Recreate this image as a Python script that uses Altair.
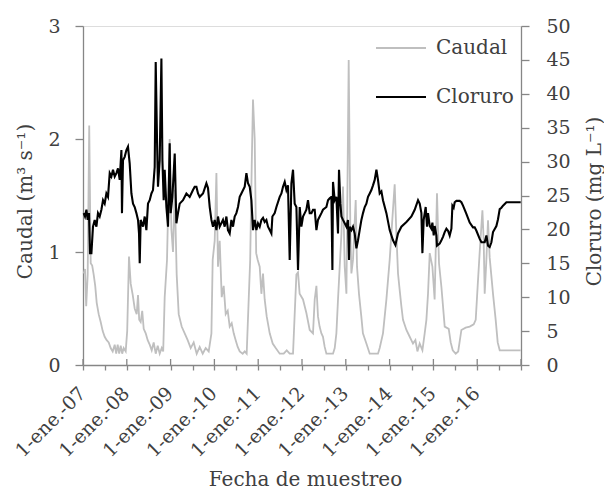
import altair as alt
import pandas as pd

# ---------------- data ----------------
caudal_t = [2007.016, 2007.046, 2007.073, 2007.107, 2007.142, 2007.176, 2007.210, 2007.244, 2007.279, 2007.313,
            2007.358, 2007.404, 2007.450, 2007.495, 2007.541, 2007.587, 2007.632, 2007.678, 2007.724, 2007.758,
            2007.792, 2007.826, 2007.861, 2007.895, 2007.929, 2007.975,
            2008.009, 2008.050, 2008.089, 2008.135, 2008.180, 2008.226, 2008.256, 2008.283, 2008.317, 2008.352,
            2008.386, 2008.432, 2008.477, 2008.523, 2008.569, 2008.614, 2008.660, 2008.706, 2008.751, 2008.797,
            2008.831, 2008.865, 2008.918, 2008.979,
            2009.018, 2009.055, 2009.094, 2009.139, 2009.185, 2009.253, 2009.322, 2009.390, 2009.459, 2009.527,
            2009.596, 2009.664, 2009.733, 2009.801, 2009.870, 2009.932, 2009.961,
            2010.007, 2010.046, 2010.082, 2010.121, 2010.167, 2010.212, 2010.258, 2010.304, 2010.349, 2010.395,
            2010.441, 2010.486, 2010.532, 2010.578, 2010.646, 2010.692, 2010.737, 2010.783, 2010.817, 2010.852,
            2010.881, 2010.920, 2010.954, 2010.989,
            2011.034, 2011.073, 2011.110, 2011.148, 2011.194, 2011.263, 2011.331, 2011.400, 2011.491, 2011.582,
            2011.651, 2011.719, 2011.795, 2011.833, 2011.872, 2011.909, 2011.946,
            2012.023, 2012.100, 2012.176, 2012.251, 2012.290, 2012.329, 2012.365, 2012.402, 2012.443, 2012.479,
            2012.518, 2012.557, 2012.708, 2012.747, 2012.785, 2012.822, 2012.861, 2012.900, 2012.936, 2012.975,
            2013.014, 2013.066, 2013.105, 2013.128, 2013.164, 2013.226, 2013.256, 2013.301, 2013.354, 2013.391,
            2013.470, 2013.546, 2013.735, 2013.774, 2013.849, 2013.927,
            2014.002, 2014.064, 2014.116, 2014.155, 2014.192, 2014.231, 2014.269, 2014.306, 2014.384, 2014.459,
            2014.534, 2014.589, 2014.635, 2014.687, 2014.749, 2014.801, 2014.840, 2014.877, 2014.916, 2014.977,
            2015.028, 2015.082, 2015.128, 2015.183, 2015.258, 2015.350, 2015.395, 2015.441, 2015.509, 2015.566,
            2015.639, 2015.737, 2015.829, 2015.920, 2015.966,
            2016.011, 2016.057, 2016.119, 2016.148, 2016.171, 2016.206, 2016.247, 2016.285, 2016.361, 2016.422,
            2016.468, 2016.514, 2016.993]

caudal_q = [0.81, 0.85, 0.52, 0.80, 2.12, 0.90, 0.88, 0.80, 0.70, 0.55,
            0.45, 0.38, 0.30, 0.25, 0.22, 0.20, 0.15, 0.12, 0.18, 0.10,
            0.18, 0.10, 0.17, 0.10, 0.15, 0.12,
            0.30, 0.96, 0.72, 0.62, 0.50, 0.45, 0.62, 0.40, 0.38, 0.48,
            0.32, 0.28, 0.22, 0.18, 0.13, 0.20, 0.10, 0.17, 0.10, 0.15,
            0.12, 0.60, 0.93, 2.00,
            1.20, 1.00, 1.55, 0.80, 0.45, 0.34, 0.28, 0.22, 0.15, 0.20,
            0.10, 0.16, 0.10, 0.15, 0.12, 0.28, 0.93,
            1.10, 1.70, 0.87, 1.10, 0.60, 0.70, 0.45, 0.48, 0.34, 0.37,
            0.28, 0.22, 0.16, 0.12, 0.10, 0.12, 0.10, 0.58, 0.93, 1.76,
            2.35, 2.00, 0.99, 0.93,
            0.87, 0.63, 0.81, 0.58, 0.43, 0.28, 0.19, 0.15, 0.10, 0.10,
            0.13, 0.10, 0.10, 0.45, 0.80, 0.82, 0.63,
            0.58, 0.46, 0.31, 0.28, 0.58, 0.70, 0.43, 0.34, 0.28, 0.25,
            0.16, 0.10, 0.10, 0.15, 0.28, 0.58, 0.87, 1.16, 1.58, 0.87,
            0.63, 2.70, 1.16, 0.81, 0.93, 1.46, 0.87, 0.63, 0.43, 0.28,
            0.19, 0.10, 0.10, 0.15, 0.28, 0.58,
            0.93, 1.30, 1.60, 1.16, 0.81, 0.66, 0.52, 0.40, 0.31, 0.25,
            0.19, 0.22, 0.12, 0.19, 0.13, 0.28, 0.40, 0.63, 0.99, 0.87,
            0.58, 1.52, 0.90, 0.69, 0.34, 0.32, 0.20, 0.13, 0.10, 0.12,
            0.31, 0.33, 0.34, 0.36, 0.40,
            0.70, 1.00, 1.37, 1.10, 0.63, 0.90, 1.28, 0.95, 0.63, 0.40,
            0.20, 0.13, 0.13]

cloruro_t = [2007.016, 2007.046, 2007.078, 2007.107, 2007.137, 2007.160, 2007.192, 2007.228, 2007.267, 2007.306,
             2007.342, 2007.381, 2007.420, 2007.457, 2007.495, 2007.534, 2007.571, 2007.610, 2007.648, 2007.685,
             2007.724, 2007.763, 2007.799, 2007.838, 2007.877, 2007.890, 2007.913, 2007.952, 2007.991,
             2008.027, 2008.066, 2008.105, 2008.142, 2008.180, 2008.219, 2008.256, 2008.279, 2008.295, 2008.317,
             2008.370, 2008.409, 2008.447, 2008.484, 2008.523, 2008.562, 2008.598, 2008.637, 2008.660, 2008.690,
             2008.712, 2008.751, 2008.790, 2008.813, 2008.842, 2008.865, 2008.904, 2008.941, 2008.979,
             2009.002, 2009.041, 2009.094, 2009.132, 2009.169, 2009.208, 2009.283, 2009.361, 2009.436, 2009.511,
             2009.550, 2009.589, 2009.626, 2009.664, 2009.740, 2009.817, 2009.854, 2009.893, 2009.932, 2009.968,
             2010.007, 2010.046, 2010.082, 2010.121, 2010.196, 2010.235, 2010.274, 2010.310, 2010.349, 2010.388,
             2010.425, 2010.463, 2010.502, 2010.539, 2010.578, 2010.616, 2010.692, 2010.731, 2010.767, 2010.806,
             2010.845, 2010.881, 2010.920, 2010.959, 2010.995,
             2011.034, 2011.073, 2011.110, 2011.148, 2011.187, 2011.224, 2011.263, 2011.301, 2011.324, 2011.377,
             2011.416, 2011.491, 2011.530, 2011.566, 2011.605, 2011.644, 2011.680, 2011.719, 2011.758, 2011.795,
             2011.833, 2011.872, 2011.909, 2011.948, 2011.986,
             2012.023, 2012.062, 2012.100, 2012.137, 2012.176, 2012.215, 2012.251, 2012.290, 2012.329, 2012.365,
             2012.404, 2012.443, 2012.479, 2012.557, 2012.594, 2012.632, 2012.671, 2012.694, 2012.708, 2012.747,
             2012.785, 2012.822, 2012.845, 2012.877, 2012.900, 2012.936, 2012.975,
             2013.014, 2013.050, 2013.073, 2013.089, 2013.128, 2013.164, 2013.203, 2013.242, 2013.279, 2013.317,
             2013.356, 2013.393, 2013.432, 2013.470, 2013.507, 2013.546, 2013.584, 2013.621, 2013.660, 2013.699,
             2013.735, 2013.774, 2013.813, 2013.849, 2013.927,
             2014.002, 2014.078, 2014.132, 2014.192, 2014.269, 2014.384, 2014.498, 2014.573, 2014.649, 2014.687,
             2014.726, 2014.749, 2014.778, 2014.824, 2014.854, 2014.877, 2014.916, 2014.954, 2014.977,
             2015.007, 2015.030, 2015.069, 2015.082, 2015.144, 2015.183, 2015.219, 2015.258, 2015.297, 2015.334,
             2015.372, 2015.411, 2015.434, 2015.463, 2015.486, 2015.525, 2015.600, 2015.639, 2015.676, 2015.753,
             2015.829, 2015.904, 2015.943, 2015.982,
             2016.057, 2016.096, 2016.171, 2016.210, 2016.247, 2016.285, 2016.324, 2016.361, 2016.438, 2016.475,
             2016.514, 2016.553, 2016.589, 2016.667, 2016.993]

cloruro_c = [22.4, 21.9, 22.9, 21.4, 22.4, 16.5, 16.5, 20.4, 21.4, 20.4,
             22.4, 21.9, 22.9, 24.3, 23.8, 25.3, 24.8, 28.3, 27.8, 28.8,
             27.8, 28.3, 29.0, 27.3, 31.7, 22.4, 30.2, 30.7, 31.7,
             32.2, 29.7, 25.3, 23.8, 23.3, 22.4, 21.4, 19.4, 15.0, 21.4,
             20.4, 21.9, 19.9, 23.8, 24.3, 25.3, 25.8, 29.2, 44.7, 33.2,
             26.3, 30.2, 45.2, 30.2, 24.3, 28.8, 23.3, 20.4, 32.7,
             22.4, 24.8, 31.2, 20.9, 22.4, 23.8, 24.3, 25.3, 24.8, 25.8,
             26.3, 26.3, 25.3, 24.8, 25.3, 26.8, 26.1, 23.3, 21.4, 20.4,
             21.4, 19.9, 21.9, 20.4, 21.4, 20.4, 21.9, 19.9, 19.4, 21.4,
             20.4, 21.9, 22.4, 23.3, 24.8, 25.3, 26.3, 28.3, 26.8, 26.3,
             24.3, 19.9, 21.4, 19.9, 20.9,
             20.4, 21.4, 21.7, 21.1, 21.4, 20.4, 19.9, 19.4, 21.9, 22.4,
             23.3, 24.8, 25.3, 26.3, 27.0, 25.8, 26.5, 15.5, 26.8, 28.8,
             23.8, 23.3, 14.0, 23.3, 20.4,
             21.9, 22.4, 22.9, 24.3, 22.4, 22.4, 22.9, 22.9, 19.9, 21.4,
             21.9, 22.4, 22.9, 23.3, 24.3, 24.6, 24.8, 14.0, 27.0, 24.3,
             24.8, 19.4, 28.8, 23.8, 21.9, 21.4, 20.9,
             20.4, 21.4, 15.5, 20.4, 19.9, 20.4, 19.4, 17.2, 18.4, 19.9,
             21.4, 22.4, 23.3, 23.8, 24.8, 25.3, 25.8, 26.5, 27.3, 28.8,
             27.3, 25.3, 25.6, 24.3, 22.4,
             19.9, 18.4, 17.7, 19.4, 20.4, 21.1, 21.9, 22.9, 24.3, 23.8,
             22.4, 16.5, 21.4, 23.3, 20.4, 22.4, 20.5, 20.1, 21.0,
             19.1, 20.5, 19.1, 17.6, 17.9, 18.4, 18.9, 19.6, 20.1, 19.8,
             19.1, 20.1, 23.5, 23.2, 24.0, 24.2, 24.2, 24.0, 23.5, 22.3,
             21.0, 20.3, 20.3, 19.8,
             18.6, 18.1, 18.1, 19.1, 17.6, 17.4, 18.1, 19.6, 20.5, 21.5,
             23.0, 23.2, 23.5, 24.0, 24.0]

series_names = ["Caudal", "Cloruro"]
series_colors = ["#bfbfbf", "#000000"]
year_ticks = [2007 + 0.5 * i for i in range(21)]
major_years = list(range(2007, 2018))
caudal_ticks = [0, 1, 2, 3]
cloruro_ticks = list(range(0, 51, 5))

df_q = pd.DataFrame({"t": caudal_t, "v": caudal_q, "serie": series_names[0]})
df_c = pd.DataFrame({"t": cloruro_t, "v": cloruro_c, "serie": series_names[1]})
df_major = pd.DataFrame({"t": major_years})

FONT = "DejaVu Serif"
TXT = "#404040"
AXC = "#868686"
W, H = 438, 339

x_enc = alt.X(
    "t:Q",
    scale=alt.Scale(domain=[2007, 2017], nice=False, zero=False),
    axis=alt.Axis(
        values=year_ticks,
        labelExpr="(datum.value % 1 == 0 && datum.value < 2017) ? '1-ene.-' + format(datum.value - 2000, '02d') : ''",
        labelAngle=315, labelAlign="right", labelBaseline="middle",
        labelPadding=20, labelOffset=-1, labelOverlap=False, labelFlush=False, labelBound=False,
        labelFont=FONT, labelFontSize=19, labelColor=TXT,
        tickSize=5, tickColor=AXC, tickWidth=1.3, domainColor=AXC, domainWidth=1.3,
        grid=False,
        title="Fecha de muestreo", titleFont=FONT, titleFontSize=20, titleColor=TXT,
        titleFontWeight="normal", titleAnchor=None, titleX=222, titleY=120,
        titleAlign="center", titleBaseline="alphabetic",
    ),
)

color_enc = alt.Color(
    "serie:N",
    scale=alt.Scale(domain=series_names, range=series_colors),
    legend=alt.Legend(
        title=None, orient="none", legendX=292, legendY=-4, padding=0,
        symbolType="stroke", symbolSize=2500, symbolStrokeWidth=2,
        labelFont=FONT, labelFontSize=20, labelColor=TXT, labelOffset=9,
        rowPadding=13, labelLimit=0,
    ),
)

line_q = alt.Chart(df_q).mark_line(strokeWidth=1.8).encode(
    x=x_enc,
    y=alt.Y(
        "v:Q",
        scale=alt.Scale(domain=[0, 3], nice=False, zero=True),
        axis=alt.Axis(
            orient="left", values=caudal_ticks, format="d", grid=False,
            labelFont=FONT, labelFontSize=19, labelColor=TXT, labelPadding=15,
            tickSize=8, tickColor=AXC, tickWidth=1.3, domainColor=AXC, domainWidth=1.3,
            title="Caudal  (m³ s⁻¹)", titleFont=FONT, titleFontSize=20, titleColor=TXT,
            titleFontWeight="normal", titleAngle=270, titleX=-52, titleY=175,
            titleAlign="center", titleBaseline="alphabetic",
        ),
    ),
    color=color_enc,
)

line_c = alt.Chart(df_c).mark_line(strokeWidth=2.1).encode(
    x=x_enc,
    y=alt.Y(
        "v:Q",
        scale=alt.Scale(domain=[0, 50], nice=False, zero=True),
        axis=alt.Axis(
            orient="right", values=cloruro_ticks, format="d", grid=False,
            labelFont=FONT, labelFontSize=19, labelColor=TXT, labelPadding=17,
            tickSize=8, tickColor=AXC, tickWidth=1.3, domainColor=AXC, domainWidth=1.3,
            title="Cloruro  (mg L⁻¹)", titleFont=FONT, titleFontSize=20, titleColor=TXT,
            titleFontWeight="normal", titleAngle=270, titleX=79, titleY=175,
            titleAlign="center", titleBaseline="alphabetic",
        ),
    ),
    color=color_enc,
)

major = alt.Chart(df_major).mark_rule(color=AXC, strokeWidth=1.3).encode(
    x=x_enc,
    y=alt.value(H - 6),
    y2=alt.value(H),
)

chart = (
    alt.layer(line_q, line_c, major)
    .resolve_scale(y="independent")
    .properties(
        width=W, height=H,
        autosize=alt.AutoSizeParams(type="none"),
        padding={"left": 75, "top": 18, "right": 83, "bottom": 124},
        background="white",
    )
    .configure_view(stroke=None)
    .configure(font=FONT)
)

chart.save("out.html", embed_options={"renderer": "svg", "actions": False})
